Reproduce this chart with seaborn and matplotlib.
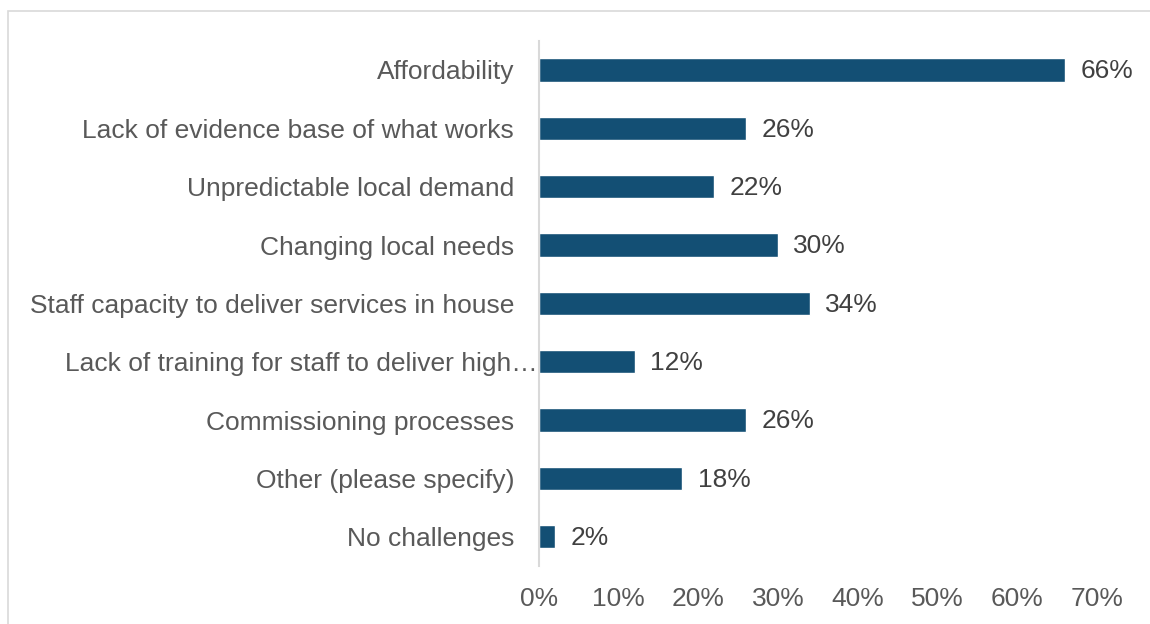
import matplotlib
matplotlib.use("Agg")
import matplotlib.pyplot as plt
import matplotlib.patches as mpatches
import matplotlib.transforms as mtransforms
import seaborn as sns
import pandas as pd

categories = [
    "Affordability",
    "Lack of evidence base of what works",
    "Unpredictable local demand",
    "Changing local needs",
    "Staff capacity to deliver services in house",
    "Lack of training for staff to deliver high\u2026",
    "Commissioning processes",
    "Other (please specify)",
    "No challenges",
]
values = [66, 26, 22, 30, 34, 12, 26, 18, 2]
ticks = [0, 10, 20, 30, 40, 50, 60, 70]
tick_labels = [f"{t}%" for t in ticks]

sns.set_theme(style="white")
plt.rcParams["font.family"] = ["Liberation Sans", "DejaVu Sans"]

BAR = "#134F74"
TEXT = "#595959"
LINE = "#D9D9D9"
FS = 19

df = pd.DataFrame({"category": categories, "value": values})

fig = plt.figure(figsize=(11.5, 6.24), dpi=100)
ax = fig.add_axes([539 / 1150, 1 - 566 / 624, (1097 - 539) / 1150, (566 - 40.8) / 624])

sns.barplot(data=df, x="value", y="category", orient="h", color=BAR,
            width=0.4, saturation=1, ax=ax)

ax.set_xlim(0, 70)
ax.set_ylim(len(categories) - 0.5, -0.5)
ax.set_xticks(ticks)
ax.set_xticklabels(tick_labels)
ax.set_xlabel("")
ax.set_ylabel("")
ax.tick_params(axis="both", length=0, labelsize=FS, colors=TEXT)
ax.tick_params(axis="y", pad=18)
ax.tick_params(axis="x", pad=15)

# the truncated category label runs right up to the axis line
for lbl in ax.get_yticklabels():
    if lbl.get_text().endswith("\u2026"):
        lbl.set_transform(lbl.get_transform() +
                          mtransforms.ScaledTranslation(0.24, 0, fig.dpi_scale_trans))

for side in ["top", "right", "bottom"]:
    ax.spines[side].set_visible(False)
ax.spines["left"].set_color(LINE)
ax.spines["left"].set_linewidth(1.5)

for i, v in enumerate(values):
    ax.annotate(f"{v}%", xy=(v, i), xytext=(11, -1), textcoords="offset points",
                va="center", ha="left", fontsize=FS, color="#404040")

# thin frame around the chart area
frame = mpatches.Rectangle((8 / 1150, -0.05), 1.2, 1 - 11 / 624 + 0.05,
                           transform=fig.transFigure, fill=False,
                           edgecolor=LINE, linewidth=1.2, clip_on=False)
fig.add_artist(frame)

fig.savefig("out.png", dpi=100, facecolor="white")
